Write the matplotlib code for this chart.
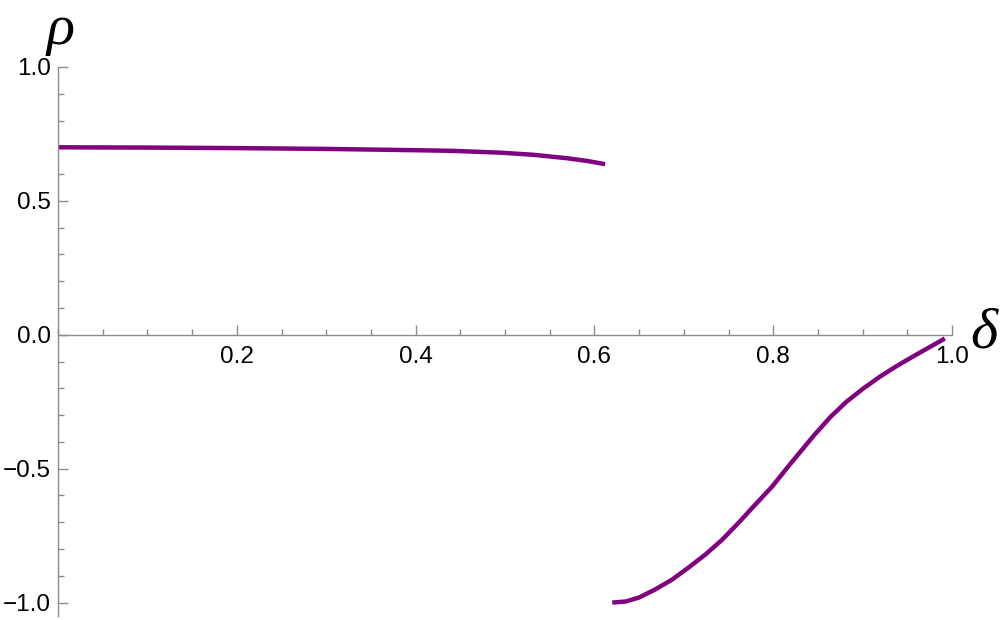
import matplotlib
matplotlib.use('Agg')
import matplotlib.pyplot as plt
from matplotlib.ticker import MultipleLocator, FuncFormatter

# upper branch
delta_up = [0.0, 0.1, 0.2, 0.3, 0.383, 0.439, 0.495, 0.532, 0.570, 0.592, 0.612]
rho_up = [0.700, 0.699, 0.697, 0.694, 0.690, 0.687, 0.680, 0.672, 0.659, 0.649, 0.637]

# lower branch
delta_lo = [0.620, 0.635, 0.650, 0.668, 0.687, 0.705, 0.724, 0.743, 0.761, 0.780,
            0.799, 0.817, 0.845, 0.864, 0.882, 0.901, 0.920, 0.938, 0.957, 0.975, 0.992]
rho_lo = [-1.000, -0.996, -0.981, -0.951, -0.914, -0.870, -0.821, -0.765, -0.703, -0.634,
          -0.566, -0.491, -0.378, -0.307, -0.250, -0.200, -0.155, -0.117, -0.080, -0.046, -0.014]

x_ticks = [0.2, 0.4, 0.6, 0.8, 1.0]
y_ticks = [-1.0, -0.5, 0.0, 0.5, 1.0]

PURPLE = '#800080'
AXIS_GRAY = '#8c8c8c'


def fmt(v, pos):
    return f'{v:.1f}'.replace('-', '\u2212')


fig = plt.figure(figsize=(10, 6.2), dpi=100)
ax = fig.add_axes([0.058, 0.0065, 0.894, 0.8855])

ax.plot(delta_up, rho_up, color=PURPLE, lw=3.2, solid_capstyle='butt', solid_joinstyle='round')
ax.plot(delta_lo, rho_lo, color=PURPLE, lw=3.2, solid_capstyle='butt', solid_joinstyle='round')

ax.set_xlim(0, 1.0)
ax.set_ylim(-1.05, 1.0)

ax.spines['top'].set_visible(False)
ax.spines['right'].set_visible(False)
ax.spines['bottom'].set_position(('data', 0))
ax.spines['left'].set_position(('data', 0))
for s in ['bottom', 'left']:
    ax.spines[s].set_color(AXIS_GRAY)
    ax.spines[s].set_linewidth(1)

ax.set_xticks(x_ticks)
ax.set_yticks(y_ticks)
ax.xaxis.set_minor_locator(MultipleLocator(0.05))
ax.yaxis.set_minor_locator(MultipleLocator(0.1))
ax.xaxis.set_major_formatter(FuncFormatter(fmt))
ax.yaxis.set_major_formatter(FuncFormatter(fmt))

ax.tick_params(which='both', direction='in', color=AXIS_GRAY, width=1)
ax.tick_params(which='major', length=7)
ax.tick_params(which='minor', length=4.5)
ax.tick_params(axis='x', which='major', pad=8)
ax.tick_params(axis='y', which='major', pad=5)
for lab in ax.get_xticklabels() + ax.get_yticklabels():
    lab.set_fontfamily('Liberation Sans')
    lab.set_fontsize(17.5)

fig.text(0.060, 1 - 30 / 620, 'ρ', family='Liberation Serif', style='italic',
         fontsize=42, ha='center', va='center')
fig.text(0.984, 1 - 333 / 620, 'δ', family='Liberation Serif', style='italic',
         fontsize=42, ha='center', va='center')

fig.savefig('out.png', dpi=100)
